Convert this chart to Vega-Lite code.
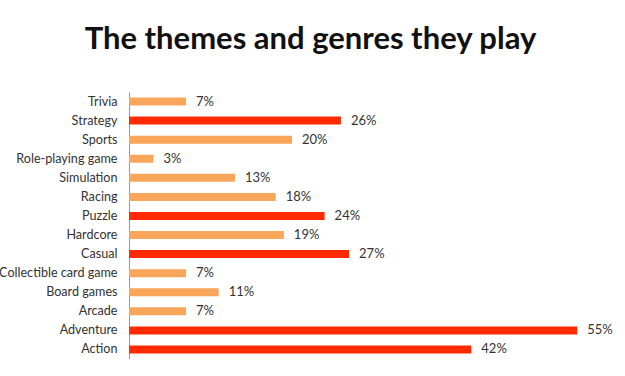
{
  "$schema": "https://vega.github.io/schema/vega-lite/v6.json",
  "autosize": {"type": "none"},
  "padding": {"left": 129, "top": 92, "right": 0, "bottom": 0},
  "width": 489,
  "height": 267,
  "background": "white",
  "title": {
    "text": "The themes and genres they play",
    "font": "Lato",
    "fontSize": 31,
    "fontWeight": "bold",
    "color": "#111111",
    "anchor": "middle",
    "frame": "group",
    "dx": -63,
    "offset": 36
  },
  "data": {
    "values": [
      {"genre": "Trivia", "pct": 0.07, "group": "other"},
      {"genre": "Strategy", "pct": 0.26, "group": "top"},
      {"genre": "Sports", "pct": 0.20, "group": "other"},
      {"genre": "Role-playing game", "pct": 0.03, "group": "other"},
      {"genre": "Simulation", "pct": 0.13, "group": "other"},
      {"genre": "Racing", "pct": 0.18, "group": "other"},
      {"genre": "Puzzle", "pct": 0.24, "group": "top"},
      {"genre": "Hardcore", "pct": 0.19, "group": "other"},
      {"genre": "Casual", "pct": 0.27, "group": "top"},
      {"genre": "Collectible card game", "pct": 0.07, "group": "other"},
      {"genre": "Board games", "pct": 0.11, "group": "other"},
      {"genre": "Arcade", "pct": 0.07, "group": "other"},
      {"genre": "Adventure", "pct": 0.55, "group": "top"},
      {"genre": "Action", "pct": 0.42, "group": "top"}
    ]
  },
  "encoding": {
    "y": {
      "field": "genre",
      "type": "nominal",
      "sort": null,
      "scale": {"paddingInner": 0.58, "paddingOuter": 0.29},
      "axis": {
        "title": null,
        "ticks": false,
        "labelPadding": 12,
        "labelFont": "Lato",
        "labelFontSize": 12.6,
        "labelColor": "#333333",
        "domainColor": "#999999",
        "domainWidth": 1
      }
    },
    "x": {
      "field": "pct",
      "type": "quantitative",
      "scale": {"domain": [0, 0.6]},
      "axis": null
    }
  },
  "layer": [
    {
      "mark": {"type": "bar"},
      "encoding": {
        "color": {
          "field": "group",
          "type": "nominal",
          "scale": {"domain": ["top", "other"], "range": ["#FF2A00", "#F9A55A"]},
          "legend": null
        }
      }
    },
    {
      "mark": {"type": "text", "align": "left", "dx": 10, "font": "Lato", "fontSize": 13, "color": "#333333"},
      "encoding": {
        "text": {"field": "pct", "type": "quantitative", "format": ".0%"}
      }
    }
  ],
  "config": {"view": {"stroke": null}}
}
